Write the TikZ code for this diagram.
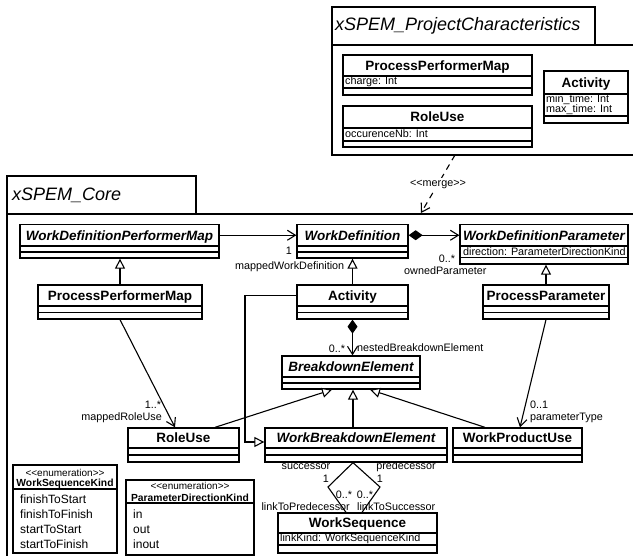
\documentclass[tikz,border=0pt]{standalone}
\usepackage{fontspec}
\setmainfont{Liberation Sans}[Ligatures=TeXOff]
\usetikzlibrary{arrows.meta,fit}
\tikzset{
  boxln/.style={draw, line width=1.3pt, inner sep=0pt},
  pkgln/.style={draw, line width=1.5pt, inner sep=0pt},
  cname/.style={font=\fontsize{13.5}{15}\selectfont\bfseries, inner sep=0pt, anchor=base},
  aname/.style={font=\fontsize{13.5}{15}\selectfont\bfseries\itshape, inner sep=0pt, anchor=base},
  ptitle/.style={font=\fontsize{18}{20}\selectfont\itshape, anchor=west, inner sep=0pt},
  attr/.style={font=\fontsize{10.8}{12}\selectfont, anchor=west, inner sep=0pt},
  lit/.style={font=\fontsize{12}{14}\selectfont, anchor=west, inner sep=0pt},
  stereo/.style={font=\fontsize{10}{12}\selectfont, inner sep=0pt},
  ename/.style={font=\fontsize{10.3}{12}\selectfont\bfseries, inner sep=0pt},
  lbl/.style={font=\fontsize{10.8}{12}\selectfont, inner sep=0pt},
  conn/.style={line width=1.1pt},
  assoc/.style={conn, -{Straight Barb[length=8pt,width=10pt,line width=1.1pt]}},
  gen/.style={conn, -{Triangle[open,fill=white,length=10pt,width=10pt,line width=1.1pt]}},
  compo/.style={conn, {Diamond[length=14pt,width=10pt]}-{Straight Barb[length=8pt,width=10pt,line width=1.1pt]}},
  merge/.style={conn, dash pattern=on 6pt off 5pt, -{Straight Barb[length=8pt,width=10pt,line width=1.1pt]}},
}
% #1 name, #2 x1, #3 y1, #4 x2, #5 y2, #6 header bottom, #7 title style, #8 title
\newcommand\umlbox[8]{%
  \node[boxln, fit={(#2,#3) (#4,#5)}] (#1) {};
  \node[boxln, fit={(#2,#3) (#4,#6)}] (#1-h) {};
  \node[#7] (#1-t) at ([yshift=-4.8pt]#1-h.center) {#8};
}
\begin{document}
\begin{tikzpicture}[x=1pt,y=-1pt]
\useasboundingbox (0,0) rectangle (633,556);
\clip (0,0) rectangle (633,556);

% ---------- package xSPEM_ProjectCharacteristics ----------
\node[pkgln, fit={(332,7) (595,45)}] (ptab) {};
\node[pkgln, fit={(332,45) (650,155)}] (pbody) {};
\node[ptitle] (ptitle) at (335,26) {xSPEM\_ProjectCharacteristics};

\umlbox{ppm2}{343}{55}{532}{95}{76}{cname}{ProcessPerformerMap}
\draw[line width=1.3pt] (343,88) -- (532,88);
\node[attr] (ppm2-a) at (345,81.5) {charge: Int};

\umlbox{ru2}{343}{106}{532}{147}{128}{cname}{RoleUse}
\draw[line width=1.3pt] (343,141) -- (532,141);
\node[attr] (ru2-a) at (345,134) {occurenceNb: Int};

\umlbox{act2}{544}{71}{628}{123}{94}{cname}{Activity}
\draw[line width=1.3pt] (544,116) -- (628,116);
\node[attr] (act2-a) at (546,99.5) {min\_time: Int};
\node[attr] (act2-b) at (546,110) {max\_time: Int};

% ---------- package xSPEM_Core ----------
\node[pkgln, fit={(7,176) (196,214)}] (ctab) {};
\node[pkgln, fit={(7,214) (650,620)}] (cbody) {};
\node[ptitle] (ctitle) at (12,195) {xSPEM\_Core};

% merge dependency
\coordinate (mg-s) at (455,155);
\coordinate (mg-e) at (421,213);
\draw[merge] (mg-s) -- node[lbl, fill=white, inner sep=1.5pt] (mg-l) {<<merge>>} (mg-e);

% row 1
\umlbox{wdpm}{20}{224.5}{219}{258}{246}{aname}{WorkDefinitionPerformerMap}
\draw[line width=1.3pt] (20,252) -- (219,252);
\umlbox{wd}{297}{224.5}{408}{258}{246}{aname}{WorkDefinition}
\draw[line width=1.3pt] (297,252) -- (408,252);
\umlbox{wdp}{460}{224.5}{628}{264}{246}{aname}{WorkDefinitionParameter}
\draw[line width=1.3pt] (460,257.5) -- (628,257.5);
\node[attr] (wdp-a) at (463,252) {direction: ParameterDirectionKind};

% row 2
\umlbox{ppm}{38}{285}{202}{319}{306}{cname}{ProcessPerformerMap}
\draw[line width=1.3pt] (38,312.5) -- (202,312.5);
\umlbox{act}{297}{285}{408}{319}{306}{cname}{Activity}
\draw[line width=1.3pt] (297,312.5) -- (408,312.5);
\umlbox{pp}{483}{285}{609}{319}{306}{cname}{ProcessParameter}
\draw[line width=1.3pt] (483,312.5) -- (609,312.5);

% BreakdownElement
\umlbox{be}{282}{356}{420}{389}{377}{aname}{BreakdownElement}
\draw[line width=1.3pt] (282,383) -- (420,383);

% row 3
\umlbox{ru}{128}{428}{239}{462}{448}{cname}{RoleUse}
\draw[line width=1.3pt] (128,455) -- (239,455);
\umlbox{wbe}{265}{428}{447}{462}{448}{aname}{WorkBreakdownElement}
\draw[line width=1.3pt] (265,455) -- (447,455);
\umlbox{wpu}{453}{428}{582}{462}{448}{cname}{WorkProductUse}
\draw[line width=1.3pt] (453,455) -- (582,455);

% WorkSequence
\umlbox{ws}{278}{513}{437}{553}{533}{cname}{WorkSequence}
\draw[line width=1.3pt] (278,545) -- (437,545);
\node[attr] (ws-a) at (280,538.5) {linkKind: WorkSequenceKind};

% enumerations
\node[boxln, fit={(13,465) (117,553)}] (wsk) {};
\draw[line width=1.3pt] (13,489) -- (117,489);
\node[stereo] (wsk-s) at (65,473) {<<enumeration>>};
\node[ename] (wsk-n) at (65,484) {WorkSequenceKind};
\node[lit] (wsk-1) at (20,499.5) {finishToStart};
\node[lit] (wsk-2) at (20,514.5) {finishToFinish};
\node[lit] (wsk-3) at (20,529.5) {startToStart};
\node[lit] (wsk-4) at (20,544.5) {startToFinish};

\node[boxln, fit={(126,480) (254,555)}] (pdk) {};
\draw[line width=1.3pt] (126,503) -- (254,503);
\node[stereo] (pdk-s) at (190,486) {<<enumeration>>};
\node[ename] (pdk-n) at (190,497.5) {ParameterDirectionKind};
\node[lit] (pdk-1) at (133,514) {in};
\node[lit] (pdk-2) at (133,529.5) {out};
\node[lit] (pdk-3) at (133,544.5) {inout};

% ---------- connectors ----------
\draw[assoc] (wdpm-h.east) -- (wd-h.west);
\node[lbl] (l-1a) at (289,251) {1};
\node[lbl, anchor=west] (l-mwd) at (235,267) {mappedWorkDefinition};

\draw[compo] (wd-h.east) -- (wdp-h.west);
\node[lbl] (l-0a) at (447,259) {0..*};
\node[lbl, anchor=west] (l-op) at (404,271) {ownedParameter};

\draw[gen] (act.north) -- (act.north |- wd.south);
\draw[gen] (ppm.north) -- (ppm.north |- wdpm.south);
\draw[gen] (pp.north) -- (pp.north |- wdp.south);

\draw[compo] (act.south) -- (act.south |- be.north);
\node[lbl] (l-0b) at (337,349) {0..*};
\node[lbl, anchor=west] (l-nbe) at (357,348) {nestedBreakdownElement};

\draw[assoc] (ppm.south) -- ([xshift=-8.5pt]ru.north);
\node[lbl] (l-1b) at (153,405) {1..*};
\node[lbl, anchor=east] (l-mru) at (162,418) {mappedRoleUse};

\draw[assoc] (pp.south) -- ([xshift=2.5pt]wpu.north);
\node[lbl, anchor=west] (l-01) at (530,404.5) {0..1};
\node[lbl, anchor=west] (l-pt) at (530,418) {parameterType};

\draw[gen] ([xshift=31.5pt]ru.north) -- ([xshift=-19pt]be.south);
\draw[gen] ([xshift=-3pt]wbe.north) -- ([xshift=2pt]be.south);
\draw[gen] ([xshift=-32.5pt]wpu.north) -- ([xshift=19pt]be.south);

\coordinate (actbend) at (245,295.5);
\draw[gen] (act-h.west) -- (actbend) |- ([yshift=-4pt]wbe-h.west);

\coordinate (wsl) at (328,487);
\coordinate (wsr) at (380,487);
\draw[conn] ([xshift=-3pt]wbe.south) -- (wsl) -- ([xshift=-11.5pt]ws.north);
\draw[conn] ([xshift=-3pt]wbe.south) -- (wsr) -- ([xshift=4.5pt]ws.north);
\node[lbl] (l-succ) at (306,467) {successor};
\node[lbl] (l-1c) at (326,479) {1};
\node[lbl] (l-pred) at (406,467) {predecessor};
\node[lbl] (l-1d) at (380,479) {1};
\node[lbl] (l-0c) at (344,495) {0..*};
\node[lbl] (l-0d) at (365,495) {0..*};
\node[lbl, anchor=east] (l-ltp) at (350,507) {linkToPredecessor};
\node[lbl, anchor=west] (l-lts) at (357,507) {linkToSuccessor};
\end{tikzpicture}
\end{document}
